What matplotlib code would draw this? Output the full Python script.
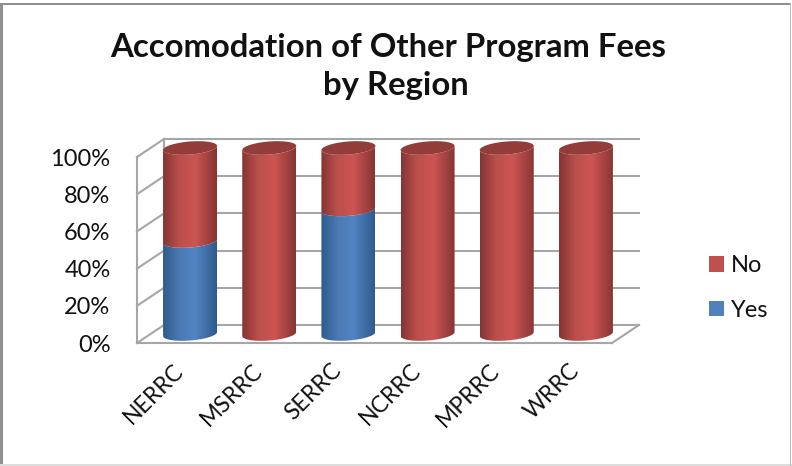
import numpy as np
import matplotlib
matplotlib.use('Agg')
import matplotlib.pyplot as plt
from matplotlib.patches import Polygon, Rectangle

regions = ['NERRC', 'MSRRC', 'SERRC', 'NCRRC', 'MPRRC', 'WRRC']
yes_pct = [50, 0, 67, 0, 0, 0]
no_pct = [50, 100, 33, 100, 100, 100]
yticks = [0, 20, 40, 60, 80, 100]

plt.rcParams['font.family'] = ['Lato', 'DejaVu Sans']

W, H = 792, 466
fig = plt.figure(figsize=(W / 100, H / 100), dpi=100, facecolor='white')
ax = fig.add_axes([137 / W, (H - 343) / H, 475 / W, 186 / H])
ax.set_xlim(0, 6)
ax.set_ylim(0, 100)

# depth of the fake 3d box, in data units
dx = 27 / (475 / 6)
dy = 18 / 1.86
grid = '#a6a6a6'

for t in yticks:
    ax.plot([0, dx], [t, t + dy], color=grid, lw=1.5, clip_on=False, zorder=1)
    ax.plot([dx, 6 + dx], [t + dy, t + dy], color=grid, lw=1.5, clip_on=False, zorder=1)
ax.plot([0, 6], [0, 0], color=grid, lw=1.5, clip_on=False, zorder=1)
ax.plot([6, 6 + dx], [0, dy], color=grid, lw=1.5, clip_on=False, zorder=1)
ax.plot([0, 0], [0, 100], color=grid, lw=1.5, clip_on=False, zorder=1)
ax.plot([dx, dx], [dy, 100 + dy], color=grid, lw=1.5, clip_on=False, zorder=1)

# cylinder shape
rx = 27 / (475 / 6)
ry = 3.5
tilt = 1.1


def ring(cx, v, t):
    return np.column_stack([cx + rx * np.cos(t), v + dy / 2 + ry * np.sin(t) + tilt * np.cos(t)])


def shade(edge, mid, peak):
    pos = [0, 0.3, 0.6, 1]
    cols = np.array([matplotlib.colors.to_rgb(c) for c in [edge, mid, peak, edge]])
    s = np.linspace(0, 1, 128)
    return np.stack([np.interp(s, pos, cols[:, i]) for i in range(3)], axis=-1)[None, :, :]


blue_grad = shade('#2f5b8c', '#4a79b2', '#5285c4')
red_grad = shade('#853533', '#bb4f4c', '#cc5552')
lower = np.linspace(np.pi, 2 * np.pi, 40)
full = np.linspace(0, 2 * np.pi, 80)

for i, (y, n) in enumerate(zip(yes_pct, no_pct)):
    cx = i + 0.5 + dx / 2
    for v0, v1, grad in [(0, y, blue_grad), (y, y + n, red_grad)]:
        if v1 <= v0:
            continue
        pts = np.vstack([ring(cx, v0, lower), ring(cx, v1, lower)[::-1]])
        im = ax.imshow(grad, extent=[cx - rx, cx + rx, -5, 130], aspect='auto',
                       interpolation='bilinear', zorder=3)
        im.set_clip_box(fig.bbox)
        im.set_clip_path(Polygon(pts, transform=ax.transData))
    ax.add_patch(Polygon(ring(cx, y + n, full), facecolor='#933d3b', edgecolor='none',
                         clip_on=False, zorder=4))

ax.set_xlim(0, 6)
ax.set_ylim(0, 100)

ax.set_yticks(yticks)
ax.set_yticklabels([f'{t}%' for t in yticks], fontsize=17, color='#111111')
ax.set_xticks(np.arange(6) + 0.45)
ax.set_xticklabels(regions, rotation=45, ha='right', va='top', rotation_mode='anchor',
                   fontsize=16.5, color='#111111')
ax.tick_params(axis='y', length=0, pad=19)
ax.tick_params(axis='x', length=0, pad=12)
for s in ax.spines.values():
    s.set_visible(False)
ax.patch.set_alpha(0)

h_no = Rectangle((0, 0), 1, 1, facecolor='#c0504d')
h_yes = Rectangle((0, 0), 1, 1, facecolor='#4f81bd')
fig.legend([h_no, h_yes], ['No', 'Yes'], loc='center left',
           bbox_to_anchor=(709 / W, (H - 288) / H), frameon=False, fontsize=17,
           handlelength=0.63, handleheight=0.63, handletextpad=0.3, labelspacing=1.0,
           borderpad=0, borderaxespad=0, labelcolor='#111111')

fig.text(388.5 / W, (H - 47) / H, 'Accomodation of Other Program Fees', ha='center',
         va='center', fontsize=23.7, fontweight='bold', color='#111111')
fig.text(396 / W, (H - 85) / H, 'by Region', ha='center', va='center', fontsize=23.7,
         fontweight='bold', color='#111111')

# screenshot frame
frame = [((0, H - 5), 791, 2, '#8f8f8f'),
         ((0, 0), 2.5, H - 3, '#8f8f8f'),
         ((0, 0), W, 2, '#dddddd'),
         ((789.5, 0), 1.5, H - 3, '#bdbdbd')]
for xy, w, h, col in frame:
    fig.patches.append(Rectangle((xy[0] / W, xy[1] / H), w / W, h / H, transform=fig.transFigure,
                                 facecolor=col, edgecolor='none'))

fig.savefig('out.png', dpi=100)
